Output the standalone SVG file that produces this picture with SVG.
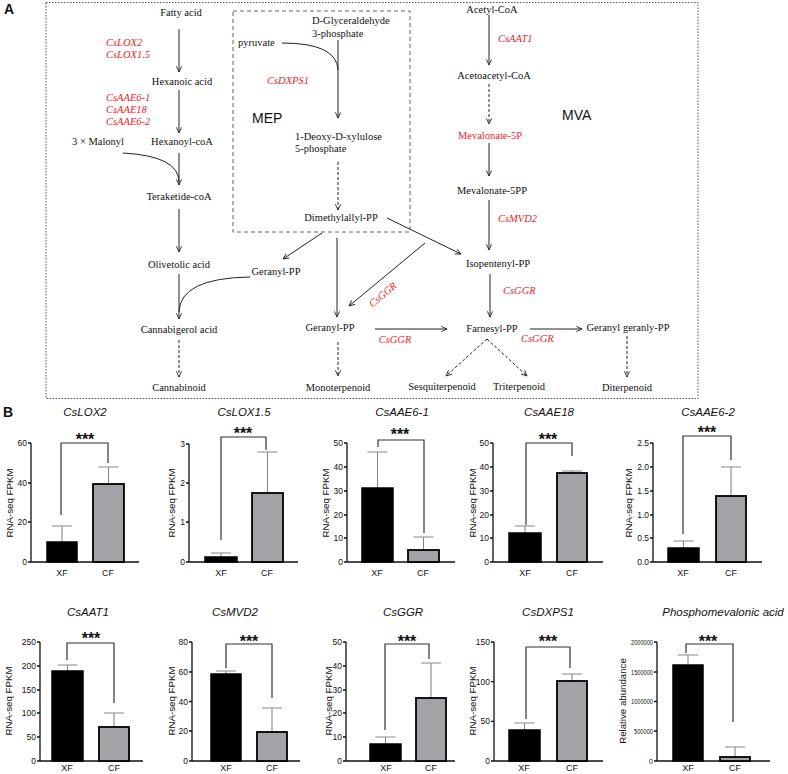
<svg xmlns="http://www.w3.org/2000/svg" width="788" height="774" viewBox="0 0 788 774">
<defs>
<marker id="ah" viewBox="0 0 8 8" refX="7.5" refY="4" markerWidth="7" markerHeight="7" markerUnits="userSpaceOnUse" orient="auto"><path d="M1,1 L7.5,4 L1,7" fill="none" stroke="#222" stroke-width="1"/></marker>
<style>
.t{font-family:"Liberation Serif","Times New Roman",serif;font-size:10.5px;fill:#111;text-anchor:middle}
.ts{font-family:"Liberation Serif","Times New Roman",serif;font-size:10.5px;fill:#111}
.g{font-family:"Liberation Serif","Times New Roman",serif;font-size:10.5px;fill:#ee1c25;font-style:italic}
.big{font-family:"Liberation Sans",Arial,sans-serif;font-size:14px;fill:#111}
.pl{font-family:"Liberation Sans",Arial,sans-serif;font-size:14px;font-weight:bold;fill:#111}
.a{stroke:#222;stroke-width:1;fill:none;marker-end:url(#ah)}
.d{stroke:#222;stroke-width:1;fill:none;stroke-dasharray:3,2;marker-end:url(#ah)}
.c{stroke:#222;stroke-width:1;fill:none}
.ttl{font-family:"Liberation Sans",Arial,sans-serif;font-size:11.5px;font-style:italic;fill:#111;text-anchor:middle}
.yl{font-family:"Liberation Sans",Arial,sans-serif;font-size:9.7px;fill:#111;text-anchor:middle}
.tk{font-family:"Liberation Sans",Arial,sans-serif;font-size:8.5px;fill:#111;text-anchor:end}
.tk2{font-family:"Liberation Sans",Arial,sans-serif;font-size:7px;fill:#111;text-anchor:end}
.xl{font-family:"Liberation Sans",Arial,sans-serif;font-size:9px;fill:#111;text-anchor:middle}
.st{font-family:"Liberation Sans",Arial,sans-serif;font-size:16px;font-weight:bold;fill:#111;text-anchor:middle}
.ax{stroke:#111;stroke-width:1.3;fill:none}
.xf{fill:#000;stroke:#000;stroke-width:1.5}
.cf{fill:#a3a3a7;stroke:#000;stroke-width:1.8}
.err{stroke:#888;stroke-width:1.1;fill:none}
.br{stroke:#333;stroke-width:1.2;fill:none}
</style>
</defs>
<rect width="788" height="774" fill="#fff"/>

<!-- Panel A frames -->
<text class="pl" x="4" y="14">A</text>
<rect x="46" y="2.5" width="652" height="396" fill="none" stroke="#555" stroke-width="1" stroke-dasharray="1.5,1.5"/>
<rect x="233" y="11" width="177" height="221" fill="none" stroke="#666" stroke-width="1" stroke-dasharray="4,3"/>

<g id="connectors">
<path class="a" d="M179,29 V72"/>
<path class="a" d="M179,90 V133"/>
<path class="a" d="M179,153 V185"/>
<path class="c" d="M123,153 Q179,156 179,182"/>
<path class="a" d="M179,209 V252"/>
<path class="a" d="M179,274 V319"/>
<path class="c" d="M250,277 Q180,278 179,312"/>
<path class="d" d="M179,340 V377"/>
<path class="a" d="M338,40 V118"/>
<path class="c" d="M282,43 Q337,43 338,70"/>
<path class="d" d="M338,162 V210"/>
<path class="a" d="M387,218 L461,254"/>
<path class="a" d="M322,233 L283,259"/>
<path class="a" d="M337,238 V317"/>
<path class="a" d="M425,243 L349,306"/>
<path class="a" d="M375,329 H447"/>
<path class="d" d="M338,342 V376"/>
<path class="a" d="M489,15 V65"/>
<path class="d" d="M489,84 V124"/>
<path class="a" d="M489,143 V176"/>
<path class="a" d="M489,200 V250"/>
<path class="a" d="M490,274 V317"/>
<path class="a" d="M530,329 H582"/>
<path class="d" d="M627,336 V377"/>
<path class="d" d="M487,339 L446,376"/>
<path class="d" d="M487,339 L527,376"/>
</g>

<g id="n-fatty"><text class="t" x="181" y="16">Fatty acid</text></g>
<g id="g-lox"><text class="g" x="106" y="46">CsLOX2</text><text class="g" x="106" y="58">CsLOX1.5</text></g>
<g id="n-hexanoic"><text class="t" x="182" y="85">Hexanoic acid</text></g>
<g id="g-aae"><text class="g" x="106" y="101">CsAAE6-1</text><text class="g" x="106" y="113">CsAAE18</text><text class="g" x="106" y="125">CsAAE6-2</text></g>
<g id="n-malonyl"><text class="ts" x="72" y="145">3 ×  Malonyl</text></g>
<g id="n-hexanoyl"><text class="t" x="182" y="145">Hexanoyl-coA</text></g>
<g id="n-teraketide"><text class="t" x="179" y="200">Teraketide-coA</text></g>
<g id="n-olivetolic"><text class="t" x="179" y="268">Olivetolic acid</text></g>
<g id="n-gpp1"><text class="t" x="276" y="275">Geranyl-PP</text></g>
<g id="n-cbga"><text class="t" x="179" y="333">Cannabigerol acid</text></g>
<g id="n-cannabinoid"><text class="t" x="179" y="391">Cannabinoid</text></g>
<g id="n-g3p"><text class="ts" x="312" y="24">D-Glyceraldehyde</text><text class="ts" x="312" y="37">3-phosphate</text></g>
<g id="n-pyruvate"><text class="ts" x="238" y="46">pyruvate</text></g>
<g id="g-dxps"><text class="g" x="267" y="84">CsDXPS1</text></g>
<g id="l-mep"><text class="big" x="252" y="123">MEP</text></g>
<g id="n-dxp"><text class="ts" x="295" y="140">1-Deoxy-D-xylulose</text><text class="ts" x="295" y="152">5-phosphate</text></g>
<g id="n-dmapp"><text class="t" x="341" y="221">Dimethylallyl-PP</text></g>
<g id="n-gpp2"><text class="t" x="330" y="331">Geranyl-PP</text></g>
<g id="g-ggr1"><text class="g" x="383" y="298" text-anchor="middle" transform="rotate(-40 383 295)">CsGGR</text></g>
<g id="g-ggr2"><text class="g" x="395" y="343" text-anchor="middle">CsGGR</text></g>
<g id="n-mono"><text class="t" x="338" y="391">Monoterpenoid</text></g>
<g id="n-acetyl"><text class="t" x="492" y="13">Acetyl-CoA</text></g>
<g id="g-aat"><text class="g" x="498" y="42">CsAAT1</text></g>
<g id="n-acetoacetyl"><text class="t" x="494" y="79">Acetoacetyl-CoA</text></g>
<g id="n-mev5p"><text class="t" x="490" y="139" style="fill:#ee1c25">Mevalonate-5P</text></g>
<g id="n-mev5pp"><text class="t" x="492" y="194">Mevalonate-5PP</text></g>
<g id="g-mvd"><text class="g" x="498" y="222">CsMVD2</text></g>
<g id="l-mva"><text class="big" x="562" y="120">MVA</text></g>
<g id="n-ipp"><text class="t" x="498" y="267">Isopentenyl-PP</text></g>
<g id="g-ggr3"><text class="g" x="503" y="294">CsGGR</text></g>
<g id="n-fpp"><text class="t" x="492" y="332">Farnesyl-PP</text></g>
<g id="g-ggr4"><text class="g" x="521" y="342">CsGGR</text></g>
<g id="n-ggpp"><text class="t" x="628" y="331">Geranyl geranly-PP</text></g>
<g id="n-sesq"><text class="t" x="442" y="390">Sesquiterpenoid</text></g>
<g id="n-tri"><text class="t" x="519" y="390">Triterpenoid</text></g>
<g id="n-di"><text class="t" x="627" y="391">Diterpenoid</text></g>

<!-- Panel B -->
<text class="pl" x="3" y="417">B</text>

<g id="chart-cslox2">
<text class="ttl" x="85" y="416">CsLOX2</text>
<text class="yl" transform="translate(12.5,503) rotate(-90)">RNA-seq FPKM</text>
<path class="ax" d="M31,443 V562 H139 M28,443 H31 M28,483 H31 M28,522 H31 M28,562 H31"/>
<text class="tk" x="27" y="446">60</text><text class="tk" x="27" y="486">40</text><text class="tk" x="27" y="525">20</text><text class="tk" x="27" y="565">0</text>
<path class="err" d="M62,542 V526 M52,526 H72 M108.5,484 V467 M98.5,467 H118.5"/>
<rect class="xf" x="47" y="542" width="30" height="20"/>
<rect class="cf" x="93" y="484" width="31" height="78"/>
<path class="br" d="M61,515 V443 H108 V463"/>
<text class="st" x="85" y="445">***</text>
<text class="xl" x="62" y="576">XF</text><text class="xl" x="108" y="576">CF</text>
</g>

<g id="chart-cslox15">
<text class="ttl" x="244" y="416">CsLOX1.5</text>
<text class="yl" transform="translate(175,503) rotate(-90)">RNA-seq FPKM</text>
<path class="ax" d="M189,444 V562 H298 M186,444 H189 M186,483 H189 M186,522 H189 M186,562 H189"/>
<text class="tk" x="185" y="447">3</text><text class="tk" x="185" y="486">2</text><text class="tk" x="185" y="525">1</text><text class="tk" x="185" y="565">0</text>
<path class="err" d="M221,557 V553 M211,553 H231 M267.5,493 V452 M257.5,452 H277.5"/>
<rect class="xf" x="205" y="557" width="32" height="5"/>
<rect class="cf" x="252" y="493" width="31" height="69"/>
<path class="br" d="M221,540 V437 H266 V450"/>
<text class="st" x="243" y="439">***</text>
<text class="xl" x="221" y="576">XF</text><text class="xl" x="267" y="576">CF</text>
</g>

<g id="chart-csaae61">
<text class="ttl" x="402" y="416">CsAAE6-1</text>
<text class="yl" transform="translate(329,503) rotate(-90)">RNA-seq FPKM</text>
<path class="ax" d="M347,443 V562 H455 M344,443 H347 M344,467 H347 M344,491 H347 M344,515 H347 M344,538 H347 M344,562 H347"/>
<text class="tk" x="343" y="446">50</text><text class="tk" x="343" y="470">40</text><text class="tk" x="343" y="494">30</text><text class="tk" x="343" y="518">20</text><text class="tk" x="343" y="541">10</text><text class="tk" x="343" y="565">0</text>
<path class="err" d="M377.5,488 V452 M367.5,452 H387.5 M423.5,550 V537 M413.5,537 H433.5"/>
<rect class="xf" x="362" y="488" width="31" height="74"/>
<rect class="cf" x="408" y="550" width="31" height="12"/>
<path class="br" d="M378,447 V440 H424 V533"/>
<text class="st" x="400" y="440">***</text>
<text class="xl" x="377" y="576">XF</text><text class="xl" x="423" y="576">CF</text>
</g>

<g id="chart-csaae18">
<text class="ttl" x="549" y="416">CsAAE18</text>
<text class="yl" transform="translate(476,503) rotate(-90)">RNA-seq FPKM</text>
<path class="ax" d="M493,443 V562 H603 M490,443 H493 M490,467 H493 M490,491 H493 M490,515 H493 M490,538 H493 M490,562 H493"/>
<text class="tk" x="489" y="446">50</text><text class="tk" x="489" y="470">40</text><text class="tk" x="489" y="494">30</text><text class="tk" x="489" y="518">20</text><text class="tk" x="489" y="541">10</text><text class="tk" x="489" y="565">0</text>
<path class="err" d="M525,533 V526 M515,526 H535 M572,473 V471 M562,471 H582"/>
<rect class="xf" x="509" y="533" width="32" height="29"/>
<rect class="cf" x="557" y="473" width="30" height="89"/>
<path class="br" d="M526,525 V443 H572 V456"/>
<text class="st" x="548" y="445">***</text>
<text class="xl" x="525" y="576">XF</text><text class="xl" x="572" y="576">CF</text>
</g>

<g id="chart-csaae62">
<text class="ttl" x="708" y="416">CsAAE6-2</text>
<text class="yl" transform="translate(632,503) rotate(-90)">RNA-seq FPKM</text>
<path class="ax" d="M653,443 V562 H762 M650,443 H653 M650,467 H653 M650,491 H653 M650,515 H653 M650,538 H653 M650,562 H653"/>
<text class="tk" x="649" y="446">2.5</text><text class="tk" x="649" y="470">2.0</text><text class="tk" x="649" y="494">1.5</text><text class="tk" x="649" y="518">1.0</text><text class="tk" x="649" y="541">0.5</text><text class="tk" x="649" y="565">0.0</text>
<path class="err" d="M683.5,548 V541 M673.5,541 H693.5 M731,496 V467 M721,467 H741"/>
<rect class="xf" x="668" y="548" width="31" height="14"/>
<rect class="cf" x="716" y="496" width="30" height="66"/>
<path class="br" d="M683,534 V436 H731 V460"/>
<text class="st" x="707" y="438">***</text>
<text class="xl" x="683" y="576">XF</text><text class="xl" x="731" y="576">CF</text>
</g>

<g id="chart-csaat1">
<text class="ttl" x="88" y="616">CsAAT1</text>
<text class="yl" transform="translate(11.5,701) rotate(-90)">RNA-seq FPKM</text>
<path class="ax" d="M40,642 V761 H143 M37,642 H40 M37,666 H40 M37,690 H40 M37,713 H40 M37,737 H40 M37,761 H40"/>
<text class="tk" x="36" y="645">250</text><text class="tk" x="36" y="669">200</text><text class="tk" x="36" y="693">150</text><text class="tk" x="36" y="716">100</text><text class="tk" x="36" y="740">50</text><text class="tk" x="36" y="764">0</text>
<path class="err" d="M67.5,671 V665 M57.5,665 H77.5 M114,727 V713 M104,713 H124"/>
<rect class="xf" x="52" y="671" width="31" height="90"/>
<rect class="cf" x="99" y="727" width="30" height="34"/>
<path class="br" d="M67,660 V643 H114 V703"/>
<text class="st" x="91" y="644">***</text>
<text class="xl" x="67" y="771">XF</text><text class="xl" x="114" y="771">CF</text>
</g>

<g id="chart-csmvd2">
<text class="ttl" x="235" y="616">CsMVD2</text>
<text class="yl" transform="translate(175,701) rotate(-90)">RNA-seq FPKM</text>
<path class="ax" d="M192,642 V761 H300 M189,642 H192 M189,672 H192 M189,701.5 H192 M189,731 H192 M189,761 H192"/>
<text class="tk" x="188" y="645">80</text><text class="tk" x="188" y="675">60</text><text class="tk" x="188" y="704.5">40</text><text class="tk" x="188" y="734">20</text><text class="tk" x="188" y="764">0</text>
<path class="err" d="M226,674 V671 M216,671 H236 M272,732 V708 M262,708 H282"/>
<rect class="xf" x="211" y="674" width="30" height="87"/>
<rect class="cf" x="257" y="732" width="30" height="29"/>
<path class="br" d="M226,668 V644 H272 V698"/>
<text class="st" x="249" y="647">***</text>
<text class="xl" x="226" y="771">XF</text><text class="xl" x="272" y="771">CF</text>
</g>

<g id="chart-csggr">
<text class="ttl" x="403" y="616">CsGGR</text>
<text class="yl" transform="translate(332,701) rotate(-90)">RNA-seq FPKM</text>
<path class="ax" d="M346,642 V761 H455 M343,642 H346 M343,666 H346 M343,690 H346 M343,713 H346 M343,737 H346 M343,761 H346"/>
<text class="tk" x="342" y="645">50</text><text class="tk" x="342" y="669">40</text><text class="tk" x="342" y="693">30</text><text class="tk" x="342" y="716">20</text><text class="tk" x="342" y="740">10</text><text class="tk" x="342" y="764">0</text>
<path class="err" d="M385.5,744 V737 M375.5,737 H395.5 M431,698 V663 M421,663 H441"/>
<rect class="xf" x="370" y="744" width="31" height="17"/>
<rect class="cf" x="416" y="698" width="30" height="63"/>
<path class="br" d="M385,730 V644 H429 V659"/>
<text class="st" x="407" y="647">***</text>
<text class="xl" x="386" y="771">XF</text><text class="xl" x="431" y="771">CF</text>
</g>

<g id="chart-csdxps1">
<text class="ttl" x="548" y="616">CsDXPS1</text>
<text class="yl" transform="translate(476,701) rotate(-90)">RNA-seq FPKM</text>
<path class="ax" d="M494,642 V761 H603 M491,642 H494 M491,681.7 H494 M491,721.3 H494 M491,761 H494"/>
<text class="tk" x="490" y="645">150</text><text class="tk" x="490" y="685">100</text><text class="tk" x="490" y="724">50</text><text class="tk" x="490" y="764">0</text>
<path class="err" d="M524.5,730 V723 M514.5,723 H534.5 M572,681 V674 M562,674 H582"/>
<rect class="xf" x="509" y="730" width="31" height="31"/>
<rect class="cf" x="557" y="681" width="30" height="80"/>
<path class="br" d="M526,719 V647 H570 V668"/>
<text class="st" x="548" y="647">***</text>
<text class="xl" x="524" y="771">XF</text><text class="xl" x="572" y="771">CF</text>
</g>

<g id="chart-phosphomevalonic">
<text class="ttl" x="723" y="616">Phosphomevalonic acid</text>
<text class="yl" transform="translate(626,701) rotate(-90)">Relative abundance</text>
<path class="ax" d="M657,642 V761 H770 M654,642 H657 M654,672 H657 M654,701.5 H657 M654,731 H657 M654,761 H657"/>
<text class="tk2" x="653" y="644.5" textLength="22" lengthAdjust="spacingAndGlyphs">2000000</text><text class="tk2" x="653" y="674.5" textLength="22" lengthAdjust="spacingAndGlyphs">1500000</text><text class="tk2" x="653" y="704" textLength="22" lengthAdjust="spacingAndGlyphs">1000000</text><text class="tk2" x="653" y="733.5" textLength="19" lengthAdjust="spacingAndGlyphs">500000</text><text class="tk2" x="653" y="763.5">0</text>
<path class="err" d="M688,665 V655 M678,655 H698 M735,757 V747 M725,747 H745"/>
<rect class="xf" x="673" y="665" width="30" height="96"/>
<rect class="cf" x="720" y="757" width="30" height="4"/>
<path class="br" d="M686,653 V644 H733 V722"/>
<text class="st" x="708" y="647">***</text>
<text class="xl" x="688" y="771">XF</text><text class="xl" x="735" y="771">CF</text>
</g>
</svg>
